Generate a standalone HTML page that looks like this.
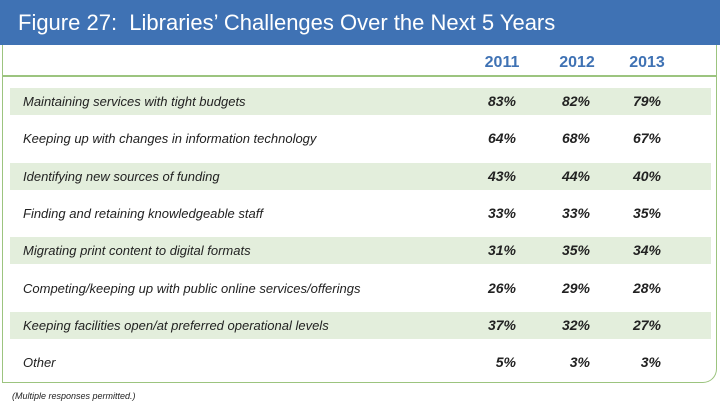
<!DOCTYPE html>
<html><head><meta charset="utf-8"><style>
body{margin:0;width:720px;height:406px;background:#fff;font-family:"Liberation Sans",sans-serif;position:relative;overflow:hidden}
#hdr{position:absolute;left:0;top:0;width:720px;height:45px;background:#3f72b4;color:#fff;font-size:22px;line-height:45px;padding-left:18px;box-sizing:border-box}
#box{position:absolute;left:2px;top:45px;width:715px;height:338px;border:1.5px solid #9cc47f;border-top:none;border-bottom-right-radius:14px;box-sizing:border-box}
#hline{position:absolute;left:2px;top:75px;width:715px;height:1.5px;background:#9cc47f}
.yr{position:absolute;top:54px;font-size:16px;font-weight:bold;color:#3f72b4;width:60px;text-align:center}
.row{position:absolute;left:10px;width:701px;height:27px}
.row.s{background:#e3eedc}
.lbl{position:absolute;left:13px;top:6px;font-size:13px;font-style:italic;color:#222}
.v{position:absolute;top:5px;font-size:14px;font-style:italic;font-weight:bold;color:#222;width:60px;text-align:right}
#note{position:absolute;left:12px;top:391px;font-size:9px;font-style:italic;color:#222}
</style></head><body>
<div id="hdr">Figure 27:&nbsp; Libraries’ Challenges Over the Next 5 Years</div>
<div id="box"></div>
<div id="hline"></div>
<div class="yr" style="left:472px">2011</div>
<div class="yr" style="left:547px">2012</div>
<div class="yr" style="left:617px">2013</div>
<div id="rows"></div>
<div id="note">(Multiple responses permitted.)</div>
<script>
const categories=["Maintaining services with tight budgets","Keeping up with changes in information technology","Identifying new sources of funding","Finding and retaining knowledgeable staff","Migrating print content to digital formats","Competing/keeping up with public online services/offerings","Keeping facilities open/at preferred operational levels","Other"];
const v2011=[83,64,43,33,31,26,37,5];
const v2012=[82,68,44,33,35,29,32,3];
const v2013=[79,67,40,35,34,28,27,3];
const series=[v2011,v2012,v2013];
const colRight=[516,590,661];
const rowY=i=>88+i*37.3;
const host=document.getElementById('rows');
categories.forEach((c,i)=>{
  const r=document.createElement('div');
  r.className='row'+(i%2===0?' s':'');
  r.style.top=rowY(i)+'px';
  
  
  const l=document.createElement('div');
  l.className='lbl';l.textContent=c;
  
  
  r.appendChild(l);
  series.forEach((s,j)=>{
    const v=document.createElement('div');
    v.className='v';v.textContent=s[i]+'%';
    v.style.left=(colRight[j]-10-60)+'px';
    
    
    r.appendChild(v);
  });
  host.appendChild(r);
});
</script>
</body></html>
